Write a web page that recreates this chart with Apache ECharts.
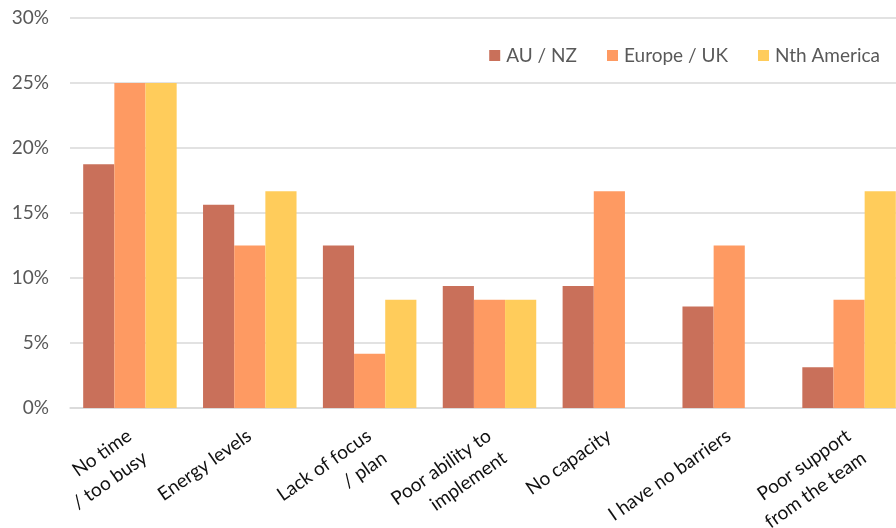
<!DOCTYPE html>
<html><head><meta charset="utf-8">
<script src="https://cdn.jsdelivr.net/npm/echarts@6/dist/echarts.min.js"></script>
<style>html,body{margin:0;padding:0;background:#fff;overflow:hidden;width:896px;height:528px}#c{width:909px;height:528px}</style>
</head><body><div id="c"></div>
<script>
const categories = ['No time\n/ too busy', 'Energy levels', 'Lack of focus\n/ plan', 'Poor ability to\nimplement', 'No capacity', 'I have no barriers', 'Poor support\nfrom the team'];
const seriesNames = ['AU / NZ', 'Europe / UK', 'Nth America'];
const auNz = [18.75, 15.63, 12.5, 9.38, 9.38, 7.81, 3.13];
const europeUk = [25, 12.5, 4.17, 8.33, 16.67, 12.5, 8.33];
const nthAmerica = [25, 16.67, 8.33, 8.33, 0, 0, 16.67];
const yTicks = [0, 5, 10, 15, 20, 25, 30];
const colors = ['#C9705A', '#FE9A62', '#FFCC5B'];
const FONT = 'Lato';

const chart = echarts.init(document.getElementById('c'), null, {renderer: 'canvas'});
const data = [auNz, europeUk, nthAmerica];
chart.setOption({
  animation: false,
  textStyle: {fontFamily: FONT},
  grid: {left: 70, right: 0, top: 18, bottom: 120, containLabel: false, outerBoundsMode: 'none'},
  legend: {
    top: 41, right: 24, itemWidth: 11, itemHeight: 11, itemGap: 30,
    icon: 'rect',
    textStyle: {fontFamily: FONT, fontSize: 19, color: '#595959', padding: [0,0,0,1]},
    data: seriesNames
  },
  xAxis: {
    type: 'category', data: categories,
    axisLine: {show: true, lineStyle: {color: '#D9D9D9', width: 1.5}},
    axisTick: {show: false},
    axisLabel: {interval: 0, rotate: 35, margin: 9, fontSize: 19, color: '#111', fontFamily: FONT, lineHeight: 27, align: 'right', verticalAlign: 'top', padding: [0, 10, 0, 0]}
  },
  yAxis: {
    type: 'value', min: yTicks[0], max: yTicks[yTicks.length-1], interval: 5,
    axisLine: {show: false}, axisTick: {show: false},
    splitLine: {lineStyle: {color: '#D9D9D9', width: 1.5}},
    axisLabel: {margin: 21, fontSize: 19, color: '#595959', fontFamily: FONT, formatter: v => v + '%'}
  },
  series: seriesNames.map((n, i) => ({
    name: n, type: 'bar', data: data[i], barGap: '0%', barCategoryGap: '22%',
    itemStyle: {color: colors[i]}
  }))
});
</script></body></html>
